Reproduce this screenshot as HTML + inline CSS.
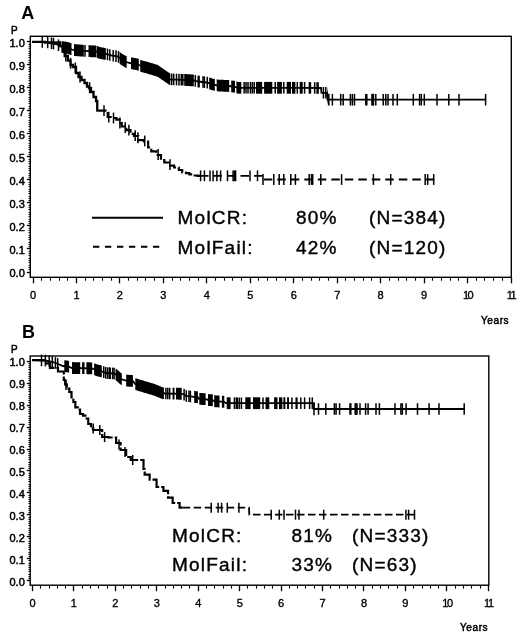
<!DOCTYPE html>
<html><head><meta charset="utf-8"><style>
html,body{margin:0;padding:0;background:#fff;}
svg{display:block;will-change:transform;}
text{font-family:"Liberation Sans",sans-serif;fill:#000;}
line{stroke:#000;}
.tk{stroke:#000;stroke-width:0.5px;}
.tx{stroke:#000;stroke-width:0.35px;}
.lg{letter-spacing:1.2px;stroke:#000;stroke-width:0.4px;}
</style></head><body>
<svg width="520" height="636" viewBox="0 0 520 636">
<rect width="520" height="636" fill="#fff"/>
<rect x="30.3" y="36.3" width="481.0" height="241.0" fill="none" stroke="#000" stroke-width="1.4"/>
<line x1="26.90" y1="272.50" x2="30.30" y2="272.50" stroke-width="1.3"/>
<line x1="28.50" y1="269.50" x2="30.30" y2="269.50" stroke-width="0.9"/>
<line x1="28.50" y1="267.50" x2="30.30" y2="267.50" stroke-width="0.9"/>
<line x1="28.50" y1="265.50" x2="30.30" y2="265.50" stroke-width="0.9"/>
<line x1="28.50" y1="262.50" x2="30.30" y2="262.50" stroke-width="0.9"/>
<line x1="28.50" y1="260.50" x2="30.30" y2="260.50" stroke-width="0.9"/>
<line x1="28.50" y1="258.50" x2="30.30" y2="258.50" stroke-width="0.9"/>
<line x1="28.50" y1="255.50" x2="30.30" y2="255.50" stroke-width="0.9"/>
<line x1="28.50" y1="253.50" x2="30.30" y2="253.50" stroke-width="0.9"/>
<line x1="28.50" y1="251.50" x2="30.30" y2="251.50" stroke-width="0.9"/>
<line x1="26.90" y1="248.50" x2="30.30" y2="248.50" stroke-width="1.3"/>
<line x1="28.50" y1="246.50" x2="30.30" y2="246.50" stroke-width="0.9"/>
<line x1="28.50" y1="244.50" x2="30.30" y2="244.50" stroke-width="0.9"/>
<line x1="28.50" y1="242.50" x2="30.30" y2="242.50" stroke-width="0.9"/>
<line x1="28.50" y1="239.50" x2="30.30" y2="239.50" stroke-width="0.9"/>
<line x1="28.50" y1="237.50" x2="30.30" y2="237.50" stroke-width="0.9"/>
<line x1="28.50" y1="235.50" x2="30.30" y2="235.50" stroke-width="0.9"/>
<line x1="28.50" y1="232.50" x2="30.30" y2="232.50" stroke-width="0.9"/>
<line x1="28.50" y1="230.50" x2="30.30" y2="230.50" stroke-width="0.9"/>
<line x1="28.50" y1="228.50" x2="30.30" y2="228.50" stroke-width="0.9"/>
<line x1="26.90" y1="225.50" x2="30.30" y2="225.50" stroke-width="1.3"/>
<line x1="28.50" y1="223.50" x2="30.30" y2="223.50" stroke-width="0.9"/>
<line x1="28.50" y1="221.50" x2="30.30" y2="221.50" stroke-width="0.9"/>
<line x1="28.50" y1="219.50" x2="30.30" y2="219.50" stroke-width="0.9"/>
<line x1="28.50" y1="216.50" x2="30.30" y2="216.50" stroke-width="0.9"/>
<line x1="28.50" y1="214.50" x2="30.30" y2="214.50" stroke-width="0.9"/>
<line x1="28.50" y1="212.50" x2="30.30" y2="212.50" stroke-width="0.9"/>
<line x1="28.50" y1="209.50" x2="30.30" y2="209.50" stroke-width="0.9"/>
<line x1="28.50" y1="207.50" x2="30.30" y2="207.50" stroke-width="0.9"/>
<line x1="28.50" y1="205.50" x2="30.30" y2="205.50" stroke-width="0.9"/>
<line x1="26.90" y1="202.50" x2="30.30" y2="202.50" stroke-width="1.3"/>
<line x1="28.50" y1="200.50" x2="30.30" y2="200.50" stroke-width="0.9"/>
<line x1="28.50" y1="198.50" x2="30.30" y2="198.50" stroke-width="0.9"/>
<line x1="28.50" y1="196.50" x2="30.30" y2="196.50" stroke-width="0.9"/>
<line x1="28.50" y1="193.50" x2="30.30" y2="193.50" stroke-width="0.9"/>
<line x1="28.50" y1="191.50" x2="30.30" y2="191.50" stroke-width="0.9"/>
<line x1="28.50" y1="189.50" x2="30.30" y2="189.50" stroke-width="0.9"/>
<line x1="28.50" y1="186.50" x2="30.30" y2="186.50" stroke-width="0.9"/>
<line x1="28.50" y1="184.50" x2="30.30" y2="184.50" stroke-width="0.9"/>
<line x1="28.50" y1="182.50" x2="30.30" y2="182.50" stroke-width="0.9"/>
<line x1="26.90" y1="179.50" x2="30.30" y2="179.50" stroke-width="1.3"/>
<line x1="28.50" y1="177.50" x2="30.30" y2="177.50" stroke-width="0.9"/>
<line x1="28.50" y1="175.50" x2="30.30" y2="175.50" stroke-width="0.9"/>
<line x1="28.50" y1="173.50" x2="30.30" y2="173.50" stroke-width="0.9"/>
<line x1="28.50" y1="170.50" x2="30.30" y2="170.50" stroke-width="0.9"/>
<line x1="28.50" y1="168.50" x2="30.30" y2="168.50" stroke-width="0.9"/>
<line x1="28.50" y1="166.50" x2="30.30" y2="166.50" stroke-width="0.9"/>
<line x1="28.50" y1="163.50" x2="30.30" y2="163.50" stroke-width="0.9"/>
<line x1="28.50" y1="161.50" x2="30.30" y2="161.50" stroke-width="0.9"/>
<line x1="28.50" y1="159.50" x2="30.30" y2="159.50" stroke-width="0.9"/>
<line x1="26.90" y1="156.50" x2="30.30" y2="156.50" stroke-width="1.3"/>
<line x1="28.50" y1="154.50" x2="30.30" y2="154.50" stroke-width="0.9"/>
<line x1="28.50" y1="152.50" x2="30.30" y2="152.50" stroke-width="0.9"/>
<line x1="28.50" y1="149.50" x2="30.30" y2="149.50" stroke-width="0.9"/>
<line x1="28.50" y1="147.50" x2="30.30" y2="147.50" stroke-width="0.9"/>
<line x1="28.50" y1="145.50" x2="30.30" y2="145.50" stroke-width="0.9"/>
<line x1="28.50" y1="143.50" x2="30.30" y2="143.50" stroke-width="0.9"/>
<line x1="28.50" y1="140.50" x2="30.30" y2="140.50" stroke-width="0.9"/>
<line x1="28.50" y1="138.50" x2="30.30" y2="138.50" stroke-width="0.9"/>
<line x1="28.50" y1="136.50" x2="30.30" y2="136.50" stroke-width="0.9"/>
<line x1="26.90" y1="133.50" x2="30.30" y2="133.50" stroke-width="1.3"/>
<line x1="28.50" y1="131.50" x2="30.30" y2="131.50" stroke-width="0.9"/>
<line x1="28.50" y1="129.50" x2="30.30" y2="129.50" stroke-width="0.9"/>
<line x1="28.50" y1="126.50" x2="30.30" y2="126.50" stroke-width="0.9"/>
<line x1="28.50" y1="124.50" x2="30.30" y2="124.50" stroke-width="0.9"/>
<line x1="28.50" y1="122.50" x2="30.30" y2="122.50" stroke-width="0.9"/>
<line x1="28.50" y1="120.50" x2="30.30" y2="120.50" stroke-width="0.9"/>
<line x1="28.50" y1="117.50" x2="30.30" y2="117.50" stroke-width="0.9"/>
<line x1="28.50" y1="115.50" x2="30.30" y2="115.50" stroke-width="0.9"/>
<line x1="28.50" y1="113.50" x2="30.30" y2="113.50" stroke-width="0.9"/>
<line x1="26.90" y1="110.50" x2="30.30" y2="110.50" stroke-width="1.3"/>
<line x1="28.50" y1="108.50" x2="30.30" y2="108.50" stroke-width="0.9"/>
<line x1="28.50" y1="106.50" x2="30.30" y2="106.50" stroke-width="0.9"/>
<line x1="28.50" y1="103.50" x2="30.30" y2="103.50" stroke-width="0.9"/>
<line x1="28.50" y1="101.50" x2="30.30" y2="101.50" stroke-width="0.9"/>
<line x1="28.50" y1="99.50" x2="30.30" y2="99.50" stroke-width="0.9"/>
<line x1="28.50" y1="97.50" x2="30.30" y2="97.50" stroke-width="0.9"/>
<line x1="28.50" y1="94.50" x2="30.30" y2="94.50" stroke-width="0.9"/>
<line x1="28.50" y1="92.50" x2="30.30" y2="92.50" stroke-width="0.9"/>
<line x1="28.50" y1="90.50" x2="30.30" y2="90.50" stroke-width="0.9"/>
<line x1="26.90" y1="87.50" x2="30.30" y2="87.50" stroke-width="1.3"/>
<line x1="28.50" y1="85.50" x2="30.30" y2="85.50" stroke-width="0.9"/>
<line x1="28.50" y1="83.50" x2="30.30" y2="83.50" stroke-width="0.9"/>
<line x1="28.50" y1="80.50" x2="30.30" y2="80.50" stroke-width="0.9"/>
<line x1="28.50" y1="78.50" x2="30.30" y2="78.50" stroke-width="0.9"/>
<line x1="28.50" y1="76.50" x2="30.30" y2="76.50" stroke-width="0.9"/>
<line x1="28.50" y1="74.50" x2="30.30" y2="74.50" stroke-width="0.9"/>
<line x1="28.50" y1="71.50" x2="30.30" y2="71.50" stroke-width="0.9"/>
<line x1="28.50" y1="69.50" x2="30.30" y2="69.50" stroke-width="0.9"/>
<line x1="28.50" y1="67.50" x2="30.30" y2="67.50" stroke-width="0.9"/>
<line x1="26.90" y1="64.50" x2="30.30" y2="64.50" stroke-width="1.3"/>
<line x1="28.50" y1="62.50" x2="30.30" y2="62.50" stroke-width="0.9"/>
<line x1="28.50" y1="60.50" x2="30.30" y2="60.50" stroke-width="0.9"/>
<line x1="28.50" y1="57.50" x2="30.30" y2="57.50" stroke-width="0.9"/>
<line x1="28.50" y1="55.50" x2="30.30" y2="55.50" stroke-width="0.9"/>
<line x1="28.50" y1="53.50" x2="30.30" y2="53.50" stroke-width="0.9"/>
<line x1="28.50" y1="51.50" x2="30.30" y2="51.50" stroke-width="0.9"/>
<line x1="28.50" y1="48.50" x2="30.30" y2="48.50" stroke-width="0.9"/>
<line x1="28.50" y1="46.50" x2="30.30" y2="46.50" stroke-width="0.9"/>
<line x1="28.50" y1="44.50" x2="30.30" y2="44.50" stroke-width="0.9"/>
<line x1="26.90" y1="41.50" x2="30.30" y2="41.50" stroke-width="1.3"/>
<text x="24.8" y="277.2" font-size="11" text-anchor="end" font-weight="normal" class="tk">0.0</text>
<text x="24.8" y="254.2" font-size="11" text-anchor="end" font-weight="normal" class="tk">0.1</text>
<text x="24.8" y="231.2" font-size="11" text-anchor="end" font-weight="normal" class="tk">0.2</text>
<text x="24.8" y="208.1" font-size="11" text-anchor="end" font-weight="normal" class="tk">0.3</text>
<text x="24.8" y="185.1" font-size="11" text-anchor="end" font-weight="normal" class="tk">0.4</text>
<text x="24.8" y="162.1" font-size="11" text-anchor="end" font-weight="normal" class="tk">0.5</text>
<text x="24.8" y="139.1" font-size="11" text-anchor="end" font-weight="normal" class="tk">0.6</text>
<text x="24.8" y="116.1" font-size="11" text-anchor="end" font-weight="normal" class="tk">0.7</text>
<text x="24.8" y="93.0" font-size="11" text-anchor="end" font-weight="normal" class="tk">0.8</text>
<text x="24.8" y="70.0" font-size="11" text-anchor="end" font-weight="normal" class="tk">0.9</text>
<text x="24.8" y="47.0" font-size="11" text-anchor="end" font-weight="normal" class="tk">1.0</text>
<line x1="33.50" y1="277.30" x2="33.50" y2="283.30" stroke-width="1.3"/>
<line x1="41.50" y1="277.30" x2="41.50" y2="280.70" stroke-width="1.1"/>
<line x1="50.50" y1="277.30" x2="50.50" y2="280.70" stroke-width="1.1"/>
<line x1="59.50" y1="277.30" x2="59.50" y2="280.70" stroke-width="1.1"/>
<line x1="67.50" y1="277.30" x2="67.50" y2="280.70" stroke-width="1.1"/>
<line x1="76.50" y1="277.30" x2="76.50" y2="283.30" stroke-width="1.3"/>
<line x1="85.50" y1="277.30" x2="85.50" y2="280.70" stroke-width="1.1"/>
<line x1="93.50" y1="277.30" x2="93.50" y2="280.70" stroke-width="1.1"/>
<line x1="102.50" y1="277.30" x2="102.50" y2="280.70" stroke-width="1.1"/>
<line x1="111.50" y1="277.30" x2="111.50" y2="280.70" stroke-width="1.1"/>
<line x1="119.50" y1="277.30" x2="119.50" y2="283.30" stroke-width="1.3"/>
<line x1="128.50" y1="277.30" x2="128.50" y2="280.70" stroke-width="1.1"/>
<line x1="137.50" y1="277.30" x2="137.50" y2="280.70" stroke-width="1.1"/>
<line x1="145.50" y1="277.30" x2="145.50" y2="280.70" stroke-width="1.1"/>
<line x1="154.50" y1="277.30" x2="154.50" y2="280.70" stroke-width="1.1"/>
<line x1="163.50" y1="277.30" x2="163.50" y2="283.30" stroke-width="1.3"/>
<line x1="172.50" y1="277.30" x2="172.50" y2="280.70" stroke-width="1.1"/>
<line x1="180.50" y1="277.30" x2="180.50" y2="280.70" stroke-width="1.1"/>
<line x1="189.50" y1="277.30" x2="189.50" y2="280.70" stroke-width="1.1"/>
<line x1="198.50" y1="277.30" x2="198.50" y2="280.70" stroke-width="1.1"/>
<line x1="206.50" y1="277.30" x2="206.50" y2="283.30" stroke-width="1.3"/>
<line x1="215.50" y1="277.30" x2="215.50" y2="280.70" stroke-width="1.1"/>
<line x1="224.50" y1="277.30" x2="224.50" y2="280.70" stroke-width="1.1"/>
<line x1="232.50" y1="277.30" x2="232.50" y2="280.70" stroke-width="1.1"/>
<line x1="241.50" y1="277.30" x2="241.50" y2="280.70" stroke-width="1.1"/>
<line x1="250.50" y1="277.30" x2="250.50" y2="283.30" stroke-width="1.3"/>
<line x1="258.50" y1="277.30" x2="258.50" y2="280.70" stroke-width="1.1"/>
<line x1="267.50" y1="277.30" x2="267.50" y2="280.70" stroke-width="1.1"/>
<line x1="276.50" y1="277.30" x2="276.50" y2="280.70" stroke-width="1.1"/>
<line x1="285.50" y1="277.30" x2="285.50" y2="280.70" stroke-width="1.1"/>
<line x1="293.50" y1="277.30" x2="293.50" y2="283.30" stroke-width="1.3"/>
<line x1="302.50" y1="277.30" x2="302.50" y2="280.70" stroke-width="1.1"/>
<line x1="311.50" y1="277.30" x2="311.50" y2="280.70" stroke-width="1.1"/>
<line x1="319.50" y1="277.30" x2="319.50" y2="280.70" stroke-width="1.1"/>
<line x1="328.50" y1="277.30" x2="328.50" y2="280.70" stroke-width="1.1"/>
<line x1="337.50" y1="277.30" x2="337.50" y2="283.30" stroke-width="1.3"/>
<line x1="345.50" y1="277.30" x2="345.50" y2="280.70" stroke-width="1.1"/>
<line x1="354.50" y1="277.30" x2="354.50" y2="280.70" stroke-width="1.1"/>
<line x1="363.50" y1="277.30" x2="363.50" y2="280.70" stroke-width="1.1"/>
<line x1="371.50" y1="277.30" x2="371.50" y2="280.70" stroke-width="1.1"/>
<line x1="380.50" y1="277.30" x2="380.50" y2="283.30" stroke-width="1.3"/>
<line x1="389.50" y1="277.30" x2="389.50" y2="280.70" stroke-width="1.1"/>
<line x1="398.50" y1="277.30" x2="398.50" y2="280.70" stroke-width="1.1"/>
<line x1="406.50" y1="277.30" x2="406.50" y2="280.70" stroke-width="1.1"/>
<line x1="415.50" y1="277.30" x2="415.50" y2="280.70" stroke-width="1.1"/>
<line x1="424.50" y1="277.30" x2="424.50" y2="283.30" stroke-width="1.3"/>
<line x1="432.50" y1="277.30" x2="432.50" y2="280.70" stroke-width="1.1"/>
<line x1="441.50" y1="277.30" x2="441.50" y2="280.70" stroke-width="1.1"/>
<line x1="450.50" y1="277.30" x2="450.50" y2="280.70" stroke-width="1.1"/>
<line x1="458.50" y1="277.30" x2="458.50" y2="280.70" stroke-width="1.1"/>
<line x1="467.50" y1="277.30" x2="467.50" y2="283.30" stroke-width="1.3"/>
<line x1="476.50" y1="277.30" x2="476.50" y2="280.70" stroke-width="1.1"/>
<line x1="484.50" y1="277.30" x2="484.50" y2="280.70" stroke-width="1.1"/>
<line x1="493.50" y1="277.30" x2="493.50" y2="280.70" stroke-width="1.1"/>
<line x1="502.50" y1="277.30" x2="502.50" y2="280.70" stroke-width="1.1"/>
<line x1="511.50" y1="277.30" x2="511.50" y2="283.30" stroke-width="1.3"/>
<text x="33.0" y="299.1" font-size="11" text-anchor="middle" font-weight="normal" class="tx">0</text>
<text x="76.5" y="299.1" font-size="11" text-anchor="middle" font-weight="normal" class="tx">1</text>
<text x="119.9" y="299.1" font-size="11" text-anchor="middle" font-weight="normal" class="tx">2</text>
<text x="163.4" y="299.1" font-size="11" text-anchor="middle" font-weight="normal" class="tx">3</text>
<text x="206.8" y="299.1" font-size="11" text-anchor="middle" font-weight="normal" class="tx">4</text>
<text x="250.3" y="299.1" font-size="11" text-anchor="middle" font-weight="normal" class="tx">5</text>
<text x="293.7" y="299.1" font-size="11" text-anchor="middle" font-weight="normal" class="tx">6</text>
<text x="337.2" y="299.1" font-size="11" text-anchor="middle" font-weight="normal" class="tx">7</text>
<text x="380.6" y="299.1" font-size="11" text-anchor="middle" font-weight="normal" class="tx">8</text>
<text x="424.1" y="299.1" font-size="11" text-anchor="middle" font-weight="normal" class="tx">9</text>
<text x="467.5" y="299.1" font-size="11" text-anchor="middle" font-weight="normal" class="tx" letter-spacing="-1.5">10</text>
<text x="511.0" y="299.1" font-size="11" text-anchor="middle" font-weight="normal" class="tx" letter-spacing="-1.5">11</text>
<text x="21.2" y="18.8" font-size="18" text-anchor="start" font-weight="bold">A</text>
<text x="11" y="33.6" font-size="10" text-anchor="start" font-weight="normal" class="tk">P</text>
<text x="481" y="324.2" font-size="10" text-anchor="start" font-weight="normal" class="tk" letter-spacing="0.6">Years</text>
<path d="M32.00,41.80 L46.00,42.00 L50.00,43.00 L56.00,44.00 L62.00,47.00 L68.00,48.00 L72.00,49.50 L74.00,50.00 L84.00,50.80 L96.00,51.50 L100.00,53.00 L106.00,54.00 L112.00,55.50 L118.00,56.50 L121.00,59.00 L126.00,62.00 L130.00,63.00 L138.00,64.50 L141.00,66.00 L150.00,68.50 L158.00,71.00 L165.00,76.00 L170.00,79.30 L183.00,79.80 L194.00,80.50 L198.00,81.50 L207.00,82.50 L212.00,84.30 L218.00,85.50 L229.00,86.00 L235.00,86.80 L238.00,87.80 L303.00,87.80 L321.00,88.00 L321.50,92.80 L327.00,92.80 L327.50,99.70 L486.00,99.70" fill="none" stroke="#000" stroke-width="1.8"/>
<line x1="42.30" y1="36.15" x2="42.30" y2="47.75" stroke-width="1.5"/>
<line x1="47.70" y1="36.62" x2="47.70" y2="48.22" stroke-width="1.5"/>
<line x1="51.50" y1="37.45" x2="51.50" y2="49.05" stroke-width="1.5"/>
<line x1="53.50" y1="37.78" x2="53.50" y2="49.38" stroke-width="1.5"/>
<line x1="58.50" y1="39.45" x2="58.50" y2="51.05" stroke-width="1.5"/>
<line x1="62.30" y1="41.25" x2="62.30" y2="52.85" stroke-width="1.5"/>
<line x1="85.00" y1="45.06" x2="85.00" y2="56.66" stroke-width="1.5"/>
<line x1="107.50" y1="48.58" x2="107.50" y2="60.17" stroke-width="1.5"/>
<line x1="109.80" y1="49.15" x2="109.80" y2="60.75" stroke-width="1.5"/>
<line x1="113.20" y1="49.90" x2="113.20" y2="61.50" stroke-width="1.5"/>
<line x1="116.00" y1="50.37" x2="116.00" y2="61.97" stroke-width="1.5"/>
<line x1="118.50" y1="51.12" x2="118.50" y2="62.72" stroke-width="1.5"/>
<line x1="171.70" y1="73.57" x2="171.70" y2="85.17" stroke-width="1.5"/>
<line x1="173.70" y1="73.64" x2="173.70" y2="85.24" stroke-width="1.5"/>
<line x1="176.50" y1="73.75" x2="176.50" y2="85.35" stroke-width="1.5"/>
<line x1="179.00" y1="73.85" x2="179.00" y2="85.45" stroke-width="1.5"/>
<line x1="181.30" y1="73.93" x2="181.30" y2="85.53" stroke-width="1.5"/>
<line x1="182.80" y1="73.99" x2="182.80" y2="85.59" stroke-width="1.5"/>
<line x1="195.30" y1="75.03" x2="195.30" y2="86.62" stroke-width="1.5"/>
<line x1="198.20" y1="75.72" x2="198.20" y2="87.32" stroke-width="1.5"/>
<line x1="199.10" y1="75.82" x2="199.10" y2="87.42" stroke-width="1.5"/>
<line x1="203.00" y1="76.26" x2="203.00" y2="87.86" stroke-width="1.5"/>
<line x1="204.40" y1="76.41" x2="204.40" y2="88.01" stroke-width="1.5"/>
<line x1="207.30" y1="76.81" x2="207.30" y2="88.41" stroke-width="1.5"/>
<line x1="244.10" y1="82.00" x2="244.10" y2="93.60" stroke-width="1.5"/>
<line x1="246.00" y1="82.00" x2="246.00" y2="93.60" stroke-width="1.5"/>
<line x1="248.00" y1="82.00" x2="248.00" y2="93.60" stroke-width="1.5"/>
<line x1="250.40" y1="82.00" x2="250.40" y2="93.60" stroke-width="1.5"/>
<line x1="252.30" y1="82.00" x2="252.30" y2="93.60" stroke-width="1.5"/>
<line x1="254.20" y1="82.00" x2="254.20" y2="93.60" stroke-width="1.5"/>
<line x1="275.20" y1="82.00" x2="275.20" y2="93.60" stroke-width="1.5"/>
<line x1="283.80" y1="82.00" x2="283.80" y2="93.60" stroke-width="1.5"/>
<line x1="297.30" y1="82.00" x2="297.30" y2="93.60" stroke-width="1.5"/>
<line x1="304.60" y1="82.02" x2="304.60" y2="93.62" stroke-width="1.5"/>
<line x1="309.40" y1="82.07" x2="309.40" y2="93.67" stroke-width="1.5"/>
<line x1="310.40" y1="82.08" x2="310.40" y2="93.68" stroke-width="1.5"/>
<line x1="314.70" y1="82.13" x2="314.70" y2="93.73" stroke-width="1.5"/>
<line x1="317.10" y1="82.16" x2="317.10" y2="93.76" stroke-width="1.5"/>
<line x1="318.10" y1="82.17" x2="318.10" y2="93.77" stroke-width="1.5"/>
<line x1="323.40" y1="87.00" x2="323.40" y2="98.60" stroke-width="1.5"/>
<line x1="325.80" y1="87.00" x2="325.80" y2="98.60" stroke-width="1.5"/>
<line x1="332.40" y1="93.90" x2="332.40" y2="105.50" stroke-width="1.5"/>
<line x1="340.70" y1="93.90" x2="340.70" y2="105.50" stroke-width="1.5"/>
<line x1="343.20" y1="93.90" x2="343.20" y2="105.50" stroke-width="1.5"/>
<line x1="350.40" y1="93.90" x2="350.40" y2="105.50" stroke-width="1.5"/>
<line x1="352.40" y1="93.90" x2="352.40" y2="105.50" stroke-width="1.5"/>
<line x1="354.50" y1="93.90" x2="354.50" y2="105.50" stroke-width="1.5"/>
<line x1="365.80" y1="93.90" x2="365.80" y2="105.50" stroke-width="1.5"/>
<line x1="366.80" y1="93.90" x2="366.80" y2="105.50" stroke-width="1.5"/>
<line x1="375.80" y1="93.90" x2="375.80" y2="105.50" stroke-width="1.5"/>
<line x1="383.20" y1="93.90" x2="383.20" y2="105.50" stroke-width="1.5"/>
<line x1="385.80" y1="93.90" x2="385.80" y2="105.50" stroke-width="1.5"/>
<line x1="388.00" y1="93.90" x2="388.00" y2="105.50" stroke-width="1.5"/>
<line x1="393.00" y1="93.90" x2="393.00" y2="105.50" stroke-width="1.5"/>
<line x1="397.30" y1="93.90" x2="397.30" y2="105.50" stroke-width="1.5"/>
<line x1="413.30" y1="93.90" x2="413.30" y2="105.50" stroke-width="1.5"/>
<line x1="419.60" y1="93.90" x2="419.60" y2="105.50" stroke-width="1.5"/>
<line x1="421.30" y1="93.90" x2="421.30" y2="105.50" stroke-width="1.5"/>
<line x1="424.30" y1="93.90" x2="424.30" y2="105.50" stroke-width="1.5"/>
<line x1="437.00" y1="93.90" x2="437.00" y2="105.50" stroke-width="1.5"/>
<line x1="448.80" y1="93.90" x2="448.80" y2="105.50" stroke-width="1.5"/>
<line x1="459.00" y1="93.90" x2="459.00" y2="105.50" stroke-width="1.5"/>
<line x1="485.60" y1="93.90" x2="485.60" y2="105.50" stroke-width="1.5"/>
<path d="M63.00,41.27 L64.00,41.43 L65.00,41.60 L66.00,41.77 L67.00,41.93 L68.00,42.10 L69.00,42.48 L70.00,42.85 L71.00,43.23 L71.50,43.41 L71.50,55.21 L71.00,55.02 L70.00,54.65 L69.00,54.27 L68.00,53.90 L67.00,53.73 L66.00,53.57 L65.00,53.40 L64.00,53.23 L63.00,53.07Z" fill="#000"/>
<path d="M74.00,44.10 L75.00,44.18 L76.00,44.26 L77.00,44.34 L78.00,44.42 L79.00,44.50 L80.00,44.58 L81.00,44.66 L82.00,44.74 L83.00,44.82 L83.80,44.88 L83.80,56.68 L83.00,56.62 L82.00,56.54 L81.00,56.46 L80.00,56.38 L79.00,56.30 L78.00,56.22 L77.00,56.14 L76.00,56.06 L75.00,55.98 L74.00,55.90Z" fill="#000"/>
<path d="M88.50,45.16 L89.50,45.22 L90.50,45.28 L91.50,45.34 L92.50,45.40 L93.50,45.45 L94.50,45.51 L95.50,45.57 L96.50,45.79 L96.50,57.59 L95.50,57.37 L94.50,57.31 L93.50,57.25 L92.50,57.20 L91.50,57.14 L90.50,57.08 L89.50,57.02 L88.50,56.96Z" fill="#000"/>
<path d="M97.00,45.98 L98.00,46.35 L99.00,46.73 L100.00,47.10 L101.00,47.27 L102.00,47.43 L103.00,47.60 L104.00,47.77 L105.00,47.93 L105.80,48.07 L105.80,59.87 L105.00,59.73 L104.00,59.57 L103.00,59.40 L102.00,59.23 L101.00,59.07 L100.00,58.90 L99.00,58.52 L98.00,58.15 L97.00,57.77Z" fill="#000"/>
<path d="M119.60,51.93 L120.60,52.77 L121.60,53.46 L122.60,54.06 L123.60,54.66 L124.60,55.26 L125.60,55.86 L126.60,56.25 L126.70,56.27 L126.70,68.08 L126.60,68.05 L125.60,67.66 L124.60,67.06 L123.60,66.46 L122.60,65.86 L121.60,65.26 L120.60,64.57 L119.60,63.73Z" fill="#000"/>
<path d="M131.00,57.29 L132.00,57.48 L133.00,57.66 L134.00,57.85 L135.00,58.04 L136.00,58.23 L137.00,58.41 L138.00,58.60 L138.80,59.00 L138.80,70.80 L138.00,70.40 L137.00,70.21 L136.00,70.03 L135.00,69.84 L134.00,69.65 L133.00,69.46 L132.00,69.28 L131.00,69.09Z" fill="#000"/>
<path d="M140.20,59.70 L141.20,60.16 L142.20,60.43 L143.20,60.71 L144.20,60.99 L145.20,61.27 L146.20,61.54 L147.20,61.82 L148.20,62.10 L149.20,62.38 L150.20,62.66 L151.20,62.98 L152.20,63.29 L153.20,63.60 L154.20,63.91 L155.20,64.22 L156.20,64.54 L157.20,64.85 L158.20,65.24 L159.20,65.96 L160.20,66.67 L161.20,67.39 L162.20,68.10 L163.20,68.81 L164.20,69.53 L165.20,70.23 L166.20,70.89 L167.20,71.55 L168.20,72.21 L169.20,72.87 L170.20,73.41 L170.30,73.41 L170.30,85.21 L170.20,85.21 L169.20,84.67 L168.20,84.01 L167.20,83.35 L166.20,82.69 L165.20,82.03 L164.20,81.33 L163.20,80.61 L162.20,79.90 L161.20,79.19 L160.20,78.47 L159.20,77.76 L158.20,77.04 L157.20,76.65 L156.20,76.34 L155.20,76.03 L154.20,75.71 L153.20,75.40 L152.20,75.09 L151.20,74.78 L150.20,74.46 L149.20,74.18 L148.20,73.90 L147.20,73.62 L146.20,73.34 L145.20,73.07 L144.20,72.79 L143.20,72.51 L142.20,72.23 L141.20,71.96 L140.20,71.50Z" fill="#000"/>
<path d="M184.20,73.98 L185.20,74.04 L186.20,74.10 L187.20,74.17 L188.20,74.23 L189.20,74.29 L190.20,74.36 L191.20,74.42 L192.20,74.49 L193.20,74.55 L193.80,74.59 L193.80,86.39 L193.20,86.35 L192.20,86.29 L191.20,86.22 L190.20,86.16 L189.20,86.09 L188.20,86.03 L187.20,85.97 L186.20,85.90 L185.20,85.84 L184.20,85.78Z" fill="#000"/>
<path d="M209.20,77.39 L210.20,77.75 L211.20,78.11 L212.20,78.44 L213.20,78.64 L214.20,78.84 L214.80,78.96 L214.80,90.76 L214.20,90.64 L213.20,90.44 L212.20,90.24 L211.20,89.91 L210.20,89.55 L209.20,89.19Z" fill="#000"/>
<path d="M216.70,79.34 L217.70,79.54 L218.70,79.63 L219.70,79.68 L220.70,79.72 L221.70,79.77 L222.70,79.81 L223.70,79.86 L224.70,79.90 L225.70,79.95 L226.70,80.00 L227.70,80.04 L228.70,80.09 L229.20,80.13 L229.20,91.93 L228.70,91.89 L227.70,91.84 L226.70,91.80 L225.70,91.75 L224.70,91.70 L223.70,91.66 L222.70,91.61 L221.70,91.57 L220.70,91.52 L219.70,91.48 L218.70,91.43 L217.70,91.34 L216.70,91.14Z" fill="#000"/>
<path d="M231.20,80.39 L232.20,80.53 L233.20,80.66 L234.20,80.79 L235.00,80.90 L235.00,92.70 L234.20,92.59 L233.20,92.46 L232.20,92.33 L231.20,92.19Z" fill="#000"/>
<path d="M236.40,81.37 L237.40,81.70 L238.40,81.90 L239.40,81.90 L240.40,81.90 L241.30,81.90 L241.30,93.70 L240.40,93.70 L239.40,93.70 L238.40,93.70 L237.40,93.50 L236.40,93.17Z" fill="#000"/>
<path d="M256.00,81.90 L257.00,81.90 L258.00,81.90 L259.00,81.90 L260.00,81.90 L261.00,81.90 L262.00,81.90 L262.20,81.90 L262.20,93.70 L262.00,93.70 L261.00,93.70 L260.00,93.70 L259.00,93.70 L258.00,93.70 L257.00,93.70 L256.00,93.70Z" fill="#000"/>
<path d="M264.10,81.90 L265.10,81.90 L266.10,81.90 L267.10,81.90 L268.10,81.90 L269.10,81.90 L270.10,81.90 L271.10,81.90 L272.10,81.90 L272.30,81.90 L272.30,93.70 L272.10,93.70 L271.10,93.70 L270.10,93.70 L269.10,93.70 L268.10,93.70 L267.10,93.70 L266.10,93.70 L265.10,93.70 L264.10,93.70Z" fill="#000"/>
<path d="M277.10,81.90 L278.10,81.90 L279.10,81.90 L280.10,81.90 L281.10,81.90 L281.90,81.90 L281.90,93.70 L281.10,93.70 L280.10,93.70 L279.10,93.70 L278.10,93.70 L277.10,93.70Z" fill="#000"/>
<path d="M286.70,81.90 L287.70,81.90 L288.70,81.90 L289.70,81.90 L290.70,81.90 L291.00,81.90 L291.00,93.70 L290.70,93.70 L289.70,93.70 L288.70,93.70 L287.70,93.70 L286.70,93.70Z" fill="#000"/>
<path d="M292.00,81.90 L293.00,81.90 L294.00,81.90 L295.00,81.90 L295.40,81.90 L295.40,93.70 L295.00,93.70 L294.00,93.70 L293.00,93.70 L292.00,93.70Z" fill="#000"/>
<path d="M299.70,81.90 L300.70,81.90 L301.70,81.90 L302.70,81.90 L302.70,93.70 L301.70,93.70 L300.70,93.70 L299.70,93.70Z" fill="#000"/>
<path d="M327.00,86.90 L328.00,93.80 L329.00,93.80 L329.60,93.80 L329.60,105.60 L329.00,105.60 L328.00,105.60 L327.00,98.70Z" fill="#000"/>
<path d="M371.20,93.80 L372.20,93.80 L373.20,93.80 L374.20,93.80 L374.20,105.60 L373.20,105.60 L372.20,105.60 L371.20,105.60Z" fill="#000"/>
<path d="M32.00,41.80 L45.00,41.80 L45.00,42.50 L58.00,42.50 L60.00,42.50 L60.00,46.00 L62.00,46.00 L62.80,46.00 L62.80,51.00 L63.60,51.00 L64.70,51.00 L64.70,56.00 L65.80,56.00 L67.90,56.00 L67.90,60.60 L70.00,60.60 L70.50,60.60 L70.50,65.00 L71.00,65.00 L73.00,65.00 L73.00,67.00 L75.00,67.00 L76.00,67.00 L76.00,73.00 L77.00,73.00 L78.50,73.00 L78.50,77.00 L80.00,77.00 L81.50,77.00 L81.50,80.00 L83.00,80.00 L84.50,80.00 L84.50,83.00 L86.00,83.00 L87.00,83.00 L87.00,86.50 L88.00,86.50 L89.00,86.50 L89.00,88.00 L90.00,88.00 L91.00,88.00 L91.00,92.00 L92.00,92.00 L93.50,92.00 L93.50,97.00 L95.00,97.00 L96.00,97.00 L96.00,101.00 L97.00,101.00 L97.25,101.00 L97.25,110.60 L97.50,110.60" fill="none" stroke="#000" stroke-width="2.3"/>
<path d="M97.50,110.60 L107.70,110.60 L107.70,117.00 L110.60,117.00 L110.60,118.00 L113.50,118.00 L116.40,118.00 L116.40,119.60 L119.30,119.60 L119.60,119.60 L119.60,123.00 L119.90,123.00 L121.75,123.00 L121.75,126.50 L123.60,126.50 L126.25,126.50 L126.25,130.20 L128.90,130.20 L130.45,130.20 L130.45,133.90 L132.00,133.90 L134.00,133.90 L134.00,136.00 L136.00,136.00 L138.25,136.00 L138.25,140.20 L140.50,140.20 L144.00,140.20 L144.00,141.50 L147.50,141.50 L148.15,141.50 L148.15,147.50 L148.80,147.50 L151.30,147.50 L151.30,151.30 L153.80,151.30 L156.30,151.30 L156.30,155.00 L158.80,155.00 L160.95,155.00 L160.95,160.00 L163.10,160.00 L164.35,160.00 L164.35,162.50 L165.60,162.50 L168.75,162.50 L168.75,165.60 L171.90,165.60 L174.10,165.60 L174.10,167.50 L176.30,167.50 L178.80,167.50 L178.80,170.00 L181.30,170.00 L182.20,170.00 L182.20,172.50 L183.10,172.50 L185.95,172.50 L185.95,173.10 L188.80,173.10 L189.40,173.10 L189.40,174.40 L190.00,174.40 L192.50,174.40 L192.50,175.50 L195.00,175.50 L197.50,175.50 L197.50,175.80 L200.00,175.80" fill="none" stroke="#000" stroke-width="2.2" stroke-dasharray="9,2.5"/>
<path d="M200.00,175.80 L262.00,175.80 L262.00,179.50 L435.00,179.50" fill="none" stroke="#000" stroke-width="1.8" stroke-dasharray="8.5,5"/>
<line x1="65.80" y1="50.60" x2="65.80" y2="61.40" stroke-width="1.5"/>
<line x1="70.60" y1="57.84" x2="70.60" y2="68.64" stroke-width="1.5"/>
<line x1="75.30" y1="62.50" x2="75.30" y2="73.30" stroke-width="1.5"/>
<line x1="80.00" y1="71.60" x2="80.00" y2="82.40" stroke-width="1.5"/>
<line x1="89.60" y1="82.30" x2="89.60" y2="93.10" stroke-width="1.5"/>
<line x1="104.00" y1="105.20" x2="104.00" y2="116.00" stroke-width="1.5"/>
<line x1="108.80" y1="111.79" x2="108.80" y2="122.59" stroke-width="1.5"/>
<line x1="113.50" y1="112.60" x2="113.50" y2="123.40" stroke-width="1.5"/>
<line x1="119.90" y1="117.60" x2="119.90" y2="128.40" stroke-width="1.5"/>
<line x1="125.20" y1="122.22" x2="125.20" y2="133.02" stroke-width="1.5"/>
<line x1="128.90" y1="124.80" x2="128.90" y2="135.60" stroke-width="1.5"/>
<line x1="135.20" y1="130.18" x2="135.20" y2="140.98" stroke-width="1.5"/>
<line x1="137.90" y1="132.37" x2="137.90" y2="143.17" stroke-width="1.5"/>
<line x1="144.70" y1="135.58" x2="144.70" y2="146.38" stroke-width="1.5"/>
<line x1="158.10" y1="149.08" x2="158.10" y2="159.88" stroke-width="1.5"/>
<line x1="170.00" y1="159.27" x2="170.00" y2="170.07" stroke-width="1.5"/>
<line x1="200.60" y1="170.40" x2="200.60" y2="181.20" stroke-width="1.5"/>
<line x1="204.40" y1="170.40" x2="204.40" y2="181.20" stroke-width="1.5"/>
<line x1="210.00" y1="170.40" x2="210.00" y2="181.20" stroke-width="1.5"/>
<line x1="213.10" y1="170.40" x2="213.10" y2="181.20" stroke-width="1.5"/>
<line x1="216.90" y1="170.40" x2="216.90" y2="181.20" stroke-width="1.5"/>
<line x1="220.60" y1="170.40" x2="220.60" y2="181.20" stroke-width="1.5"/>
<line x1="227.50" y1="170.40" x2="227.50" y2="181.20" stroke-width="1.5"/>
<line x1="233.10" y1="170.40" x2="233.10" y2="181.20" stroke-width="1.5"/>
<line x1="234.50" y1="170.40" x2="234.50" y2="181.20" stroke-width="1.5"/>
<line x1="235.60" y1="170.40" x2="235.60" y2="181.20" stroke-width="1.5"/>
<line x1="250.00" y1="170.40" x2="250.00" y2="181.20" stroke-width="1.5"/>
<line x1="257.50" y1="170.40" x2="257.50" y2="181.20" stroke-width="1.5"/>
<line x1="263.00" y1="174.10" x2="263.00" y2="184.90" stroke-width="1.5"/>
<line x1="273.80" y1="174.10" x2="273.80" y2="184.90" stroke-width="1.5"/>
<line x1="279.20" y1="174.10" x2="279.20" y2="184.90" stroke-width="1.5"/>
<line x1="283.80" y1="174.10" x2="283.80" y2="184.90" stroke-width="1.5"/>
<line x1="290.80" y1="174.10" x2="290.80" y2="184.90" stroke-width="1.5"/>
<line x1="295.40" y1="174.10" x2="295.40" y2="184.90" stroke-width="1.5"/>
<line x1="309.20" y1="174.10" x2="309.20" y2="184.90" stroke-width="1.5"/>
<line x1="311.50" y1="174.10" x2="311.50" y2="184.90" stroke-width="1.5"/>
<line x1="312.70" y1="174.10" x2="312.70" y2="184.90" stroke-width="1.5"/>
<line x1="320.80" y1="174.10" x2="320.80" y2="184.90" stroke-width="1.5"/>
<line x1="341.60" y1="174.10" x2="341.60" y2="184.90" stroke-width="1.5"/>
<line x1="373.40" y1="174.10" x2="373.40" y2="184.90" stroke-width="1.5"/>
<line x1="390.70" y1="174.10" x2="390.70" y2="184.90" stroke-width="1.5"/>
<line x1="425.20" y1="174.10" x2="425.20" y2="184.90" stroke-width="1.5"/>
<line x1="427.70" y1="174.10" x2="427.70" y2="184.90" stroke-width="1.5"/>
<line x1="433.70" y1="174.10" x2="433.70" y2="184.90" stroke-width="1.5"/>
<line x1="92.00" y1="217.80" x2="163.00" y2="217.80" stroke-width="1.9"/>
<line x1="93.00" y1="246.70" x2="160.00" y2="246.70" stroke-width="1.9" stroke-dasharray="6.3,5.7"/>
<text x="177.6" y="224.3" font-size="19" text-anchor="start" font-weight="normal" class="lg">MolCR:</text>
<text x="177.6" y="253.7" font-size="19" text-anchor="start" font-weight="normal" class="lg">MolFail:</text>
<text x="296" y="224.3" font-size="19" text-anchor="start" font-weight="normal" class="lg">80%</text>
<text x="296" y="253.7" font-size="19" text-anchor="start" font-weight="normal" class="lg">42%</text>
<text x="369" y="224.3" font-size="19" text-anchor="start" font-weight="normal" class="lg">(N=384)</text>
<text x="369" y="253.7" font-size="19" text-anchor="start" font-weight="normal" class="lg">(N=120)</text>
<rect x="30.2" y="356.0" width="458.6" height="229.20000000000005" fill="none" stroke="#000" stroke-width="1.4"/>
<line x1="26.80" y1="580.50" x2="30.20" y2="580.50" stroke-width="1.3"/>
<line x1="28.40" y1="578.50" x2="30.20" y2="578.50" stroke-width="0.9"/>
<line x1="28.40" y1="576.50" x2="30.20" y2="576.50" stroke-width="0.9"/>
<line x1="28.40" y1="574.50" x2="30.20" y2="574.50" stroke-width="0.9"/>
<line x1="28.40" y1="571.50" x2="30.20" y2="571.50" stroke-width="0.9"/>
<line x1="28.40" y1="569.50" x2="30.20" y2="569.50" stroke-width="0.9"/>
<line x1="28.40" y1="567.50" x2="30.20" y2="567.50" stroke-width="0.9"/>
<line x1="28.40" y1="565.50" x2="30.20" y2="565.50" stroke-width="0.9"/>
<line x1="28.40" y1="563.50" x2="30.20" y2="563.50" stroke-width="0.9"/>
<line x1="28.40" y1="560.50" x2="30.20" y2="560.50" stroke-width="0.9"/>
<line x1="26.80" y1="558.50" x2="30.20" y2="558.50" stroke-width="1.3"/>
<line x1="28.40" y1="556.50" x2="30.20" y2="556.50" stroke-width="0.9"/>
<line x1="28.40" y1="554.50" x2="30.20" y2="554.50" stroke-width="0.9"/>
<line x1="28.40" y1="552.50" x2="30.20" y2="552.50" stroke-width="0.9"/>
<line x1="28.40" y1="549.50" x2="30.20" y2="549.50" stroke-width="0.9"/>
<line x1="28.40" y1="547.50" x2="30.20" y2="547.50" stroke-width="0.9"/>
<line x1="28.40" y1="545.50" x2="30.20" y2="545.50" stroke-width="0.9"/>
<line x1="28.40" y1="543.50" x2="30.20" y2="543.50" stroke-width="0.9"/>
<line x1="28.40" y1="541.50" x2="30.20" y2="541.50" stroke-width="0.9"/>
<line x1="28.40" y1="538.50" x2="30.20" y2="538.50" stroke-width="0.9"/>
<line x1="26.80" y1="536.50" x2="30.20" y2="536.50" stroke-width="1.3"/>
<line x1="28.40" y1="534.50" x2="30.20" y2="534.50" stroke-width="0.9"/>
<line x1="28.40" y1="532.50" x2="30.20" y2="532.50" stroke-width="0.9"/>
<line x1="28.40" y1="530.50" x2="30.20" y2="530.50" stroke-width="0.9"/>
<line x1="28.40" y1="528.50" x2="30.20" y2="528.50" stroke-width="0.9"/>
<line x1="28.40" y1="525.50" x2="30.20" y2="525.50" stroke-width="0.9"/>
<line x1="28.40" y1="523.50" x2="30.20" y2="523.50" stroke-width="0.9"/>
<line x1="28.40" y1="521.50" x2="30.20" y2="521.50" stroke-width="0.9"/>
<line x1="28.40" y1="519.50" x2="30.20" y2="519.50" stroke-width="0.9"/>
<line x1="28.40" y1="517.50" x2="30.20" y2="517.50" stroke-width="0.9"/>
<line x1="26.80" y1="514.50" x2="30.20" y2="514.50" stroke-width="1.3"/>
<line x1="28.40" y1="512.50" x2="30.20" y2="512.50" stroke-width="0.9"/>
<line x1="28.40" y1="510.50" x2="30.20" y2="510.50" stroke-width="0.9"/>
<line x1="28.40" y1="508.50" x2="30.20" y2="508.50" stroke-width="0.9"/>
<line x1="28.40" y1="506.50" x2="30.20" y2="506.50" stroke-width="0.9"/>
<line x1="28.40" y1="503.50" x2="30.20" y2="503.50" stroke-width="0.9"/>
<line x1="28.40" y1="501.50" x2="30.20" y2="501.50" stroke-width="0.9"/>
<line x1="28.40" y1="499.50" x2="30.20" y2="499.50" stroke-width="0.9"/>
<line x1="28.40" y1="497.50" x2="30.20" y2="497.50" stroke-width="0.9"/>
<line x1="28.40" y1="495.50" x2="30.20" y2="495.50" stroke-width="0.9"/>
<line x1="26.80" y1="492.50" x2="30.20" y2="492.50" stroke-width="1.3"/>
<line x1="28.40" y1="490.50" x2="30.20" y2="490.50" stroke-width="0.9"/>
<line x1="28.40" y1="488.50" x2="30.20" y2="488.50" stroke-width="0.9"/>
<line x1="28.40" y1="486.50" x2="30.20" y2="486.50" stroke-width="0.9"/>
<line x1="28.40" y1="484.50" x2="30.20" y2="484.50" stroke-width="0.9"/>
<line x1="28.40" y1="481.50" x2="30.20" y2="481.50" stroke-width="0.9"/>
<line x1="28.40" y1="479.50" x2="30.20" y2="479.50" stroke-width="0.9"/>
<line x1="28.40" y1="477.50" x2="30.20" y2="477.50" stroke-width="0.9"/>
<line x1="28.40" y1="475.50" x2="30.20" y2="475.50" stroke-width="0.9"/>
<line x1="28.40" y1="473.50" x2="30.20" y2="473.50" stroke-width="0.9"/>
<line x1="26.80" y1="470.50" x2="30.20" y2="470.50" stroke-width="1.3"/>
<line x1="28.40" y1="468.50" x2="30.20" y2="468.50" stroke-width="0.9"/>
<line x1="28.40" y1="466.50" x2="30.20" y2="466.50" stroke-width="0.9"/>
<line x1="28.40" y1="464.50" x2="30.20" y2="464.50" stroke-width="0.9"/>
<line x1="28.40" y1="462.50" x2="30.20" y2="462.50" stroke-width="0.9"/>
<line x1="28.40" y1="459.50" x2="30.20" y2="459.50" stroke-width="0.9"/>
<line x1="28.40" y1="457.50" x2="30.20" y2="457.50" stroke-width="0.9"/>
<line x1="28.40" y1="455.50" x2="30.20" y2="455.50" stroke-width="0.9"/>
<line x1="28.40" y1="453.50" x2="30.20" y2="453.50" stroke-width="0.9"/>
<line x1="28.40" y1="451.50" x2="30.20" y2="451.50" stroke-width="0.9"/>
<line x1="26.80" y1="449.50" x2="30.20" y2="449.50" stroke-width="1.3"/>
<line x1="28.40" y1="446.50" x2="30.20" y2="446.50" stroke-width="0.9"/>
<line x1="28.40" y1="444.50" x2="30.20" y2="444.50" stroke-width="0.9"/>
<line x1="28.40" y1="442.50" x2="30.20" y2="442.50" stroke-width="0.9"/>
<line x1="28.40" y1="440.50" x2="30.20" y2="440.50" stroke-width="0.9"/>
<line x1="28.40" y1="438.50" x2="30.20" y2="438.50" stroke-width="0.9"/>
<line x1="28.40" y1="435.50" x2="30.20" y2="435.50" stroke-width="0.9"/>
<line x1="28.40" y1="433.50" x2="30.20" y2="433.50" stroke-width="0.9"/>
<line x1="28.40" y1="431.50" x2="30.20" y2="431.50" stroke-width="0.9"/>
<line x1="28.40" y1="429.50" x2="30.20" y2="429.50" stroke-width="0.9"/>
<line x1="26.80" y1="427.50" x2="30.20" y2="427.50" stroke-width="1.3"/>
<line x1="28.40" y1="424.50" x2="30.20" y2="424.50" stroke-width="0.9"/>
<line x1="28.40" y1="422.50" x2="30.20" y2="422.50" stroke-width="0.9"/>
<line x1="28.40" y1="420.50" x2="30.20" y2="420.50" stroke-width="0.9"/>
<line x1="28.40" y1="418.50" x2="30.20" y2="418.50" stroke-width="0.9"/>
<line x1="28.40" y1="416.50" x2="30.20" y2="416.50" stroke-width="0.9"/>
<line x1="28.40" y1="413.50" x2="30.20" y2="413.50" stroke-width="0.9"/>
<line x1="28.40" y1="411.50" x2="30.20" y2="411.50" stroke-width="0.9"/>
<line x1="28.40" y1="409.50" x2="30.20" y2="409.50" stroke-width="0.9"/>
<line x1="28.40" y1="407.50" x2="30.20" y2="407.50" stroke-width="0.9"/>
<line x1="26.80" y1="405.50" x2="30.20" y2="405.50" stroke-width="1.3"/>
<line x1="28.40" y1="402.50" x2="30.20" y2="402.50" stroke-width="0.9"/>
<line x1="28.40" y1="400.50" x2="30.20" y2="400.50" stroke-width="0.9"/>
<line x1="28.40" y1="398.50" x2="30.20" y2="398.50" stroke-width="0.9"/>
<line x1="28.40" y1="396.50" x2="30.20" y2="396.50" stroke-width="0.9"/>
<line x1="28.40" y1="394.50" x2="30.20" y2="394.50" stroke-width="0.9"/>
<line x1="28.40" y1="391.50" x2="30.20" y2="391.50" stroke-width="0.9"/>
<line x1="28.40" y1="389.50" x2="30.20" y2="389.50" stroke-width="0.9"/>
<line x1="28.40" y1="387.50" x2="30.20" y2="387.50" stroke-width="0.9"/>
<line x1="28.40" y1="385.50" x2="30.20" y2="385.50" stroke-width="0.9"/>
<line x1="26.80" y1="383.50" x2="30.20" y2="383.50" stroke-width="1.3"/>
<line x1="28.40" y1="380.50" x2="30.20" y2="380.50" stroke-width="0.9"/>
<line x1="28.40" y1="378.50" x2="30.20" y2="378.50" stroke-width="0.9"/>
<line x1="28.40" y1="376.50" x2="30.20" y2="376.50" stroke-width="0.9"/>
<line x1="28.40" y1="374.50" x2="30.20" y2="374.50" stroke-width="0.9"/>
<line x1="28.40" y1="372.50" x2="30.20" y2="372.50" stroke-width="0.9"/>
<line x1="28.40" y1="369.50" x2="30.20" y2="369.50" stroke-width="0.9"/>
<line x1="28.40" y1="367.50" x2="30.20" y2="367.50" stroke-width="0.9"/>
<line x1="28.40" y1="365.50" x2="30.20" y2="365.50" stroke-width="0.9"/>
<line x1="28.40" y1="363.50" x2="30.20" y2="363.50" stroke-width="0.9"/>
<line x1="26.80" y1="361.50" x2="30.20" y2="361.50" stroke-width="1.3"/>
<text x="24.8" y="585.9" font-size="11" text-anchor="end" font-weight="normal" class="tk">0.0</text>
<text x="24.8" y="564.0" font-size="11" text-anchor="end" font-weight="normal" class="tk">0.1</text>
<text x="24.8" y="542.0" font-size="11" text-anchor="end" font-weight="normal" class="tk">0.2</text>
<text x="24.8" y="520.1" font-size="11" text-anchor="end" font-weight="normal" class="tk">0.3</text>
<text x="24.8" y="498.1" font-size="11" text-anchor="end" font-weight="normal" class="tk">0.4</text>
<text x="24.8" y="476.1" font-size="11" text-anchor="end" font-weight="normal" class="tk">0.5</text>
<text x="24.8" y="454.2" font-size="11" text-anchor="end" font-weight="normal" class="tk">0.6</text>
<text x="24.8" y="432.2" font-size="11" text-anchor="end" font-weight="normal" class="tk">0.7</text>
<text x="24.8" y="410.3" font-size="11" text-anchor="end" font-weight="normal" class="tk">0.8</text>
<text x="24.8" y="388.3" font-size="11" text-anchor="end" font-weight="normal" class="tk">0.9</text>
<text x="24.8" y="366.4" font-size="11" text-anchor="end" font-weight="normal" class="tk">1.0</text>
<line x1="32.50" y1="585.20" x2="32.50" y2="591.20" stroke-width="1.3"/>
<line x1="40.50" y1="585.20" x2="40.50" y2="588.60" stroke-width="1.1"/>
<line x1="49.50" y1="585.20" x2="49.50" y2="588.60" stroke-width="1.1"/>
<line x1="57.50" y1="585.20" x2="57.50" y2="588.60" stroke-width="1.1"/>
<line x1="65.50" y1="585.20" x2="65.50" y2="588.60" stroke-width="1.1"/>
<line x1="73.50" y1="585.20" x2="73.50" y2="591.20" stroke-width="1.3"/>
<line x1="82.50" y1="585.20" x2="82.50" y2="588.60" stroke-width="1.1"/>
<line x1="90.50" y1="585.20" x2="90.50" y2="588.60" stroke-width="1.1"/>
<line x1="98.50" y1="585.20" x2="98.50" y2="588.60" stroke-width="1.1"/>
<line x1="107.50" y1="585.20" x2="107.50" y2="588.60" stroke-width="1.1"/>
<line x1="115.50" y1="585.20" x2="115.50" y2="591.20" stroke-width="1.3"/>
<line x1="123.50" y1="585.20" x2="123.50" y2="588.60" stroke-width="1.1"/>
<line x1="131.50" y1="585.20" x2="131.50" y2="588.60" stroke-width="1.1"/>
<line x1="140.50" y1="585.20" x2="140.50" y2="588.60" stroke-width="1.1"/>
<line x1="148.50" y1="585.20" x2="148.50" y2="588.60" stroke-width="1.1"/>
<line x1="156.50" y1="585.20" x2="156.50" y2="591.20" stroke-width="1.3"/>
<line x1="165.50" y1="585.20" x2="165.50" y2="588.60" stroke-width="1.1"/>
<line x1="173.50" y1="585.20" x2="173.50" y2="588.60" stroke-width="1.1"/>
<line x1="181.50" y1="585.20" x2="181.50" y2="588.60" stroke-width="1.1"/>
<line x1="189.50" y1="585.20" x2="189.50" y2="588.60" stroke-width="1.1"/>
<line x1="198.50" y1="585.20" x2="198.50" y2="591.20" stroke-width="1.3"/>
<line x1="206.50" y1="585.20" x2="206.50" y2="588.60" stroke-width="1.1"/>
<line x1="214.50" y1="585.20" x2="214.50" y2="588.60" stroke-width="1.1"/>
<line x1="223.50" y1="585.20" x2="223.50" y2="588.60" stroke-width="1.1"/>
<line x1="231.50" y1="585.20" x2="231.50" y2="588.60" stroke-width="1.1"/>
<line x1="239.50" y1="585.20" x2="239.50" y2="591.20" stroke-width="1.3"/>
<line x1="247.50" y1="585.20" x2="247.50" y2="588.60" stroke-width="1.1"/>
<line x1="256.50" y1="585.20" x2="256.50" y2="588.60" stroke-width="1.1"/>
<line x1="264.50" y1="585.20" x2="264.50" y2="588.60" stroke-width="1.1"/>
<line x1="272.50" y1="585.20" x2="272.50" y2="588.60" stroke-width="1.1"/>
<line x1="281.50" y1="585.20" x2="281.50" y2="591.20" stroke-width="1.3"/>
<line x1="289.50" y1="585.20" x2="289.50" y2="588.60" stroke-width="1.1"/>
<line x1="297.50" y1="585.20" x2="297.50" y2="588.60" stroke-width="1.1"/>
<line x1="305.50" y1="585.20" x2="305.50" y2="588.60" stroke-width="1.1"/>
<line x1="314.50" y1="585.20" x2="314.50" y2="588.60" stroke-width="1.1"/>
<line x1="322.50" y1="585.20" x2="322.50" y2="591.20" stroke-width="1.3"/>
<line x1="330.50" y1="585.20" x2="330.50" y2="588.60" stroke-width="1.1"/>
<line x1="339.50" y1="585.20" x2="339.50" y2="588.60" stroke-width="1.1"/>
<line x1="347.50" y1="585.20" x2="347.50" y2="588.60" stroke-width="1.1"/>
<line x1="355.50" y1="585.20" x2="355.50" y2="588.60" stroke-width="1.1"/>
<line x1="363.50" y1="585.20" x2="363.50" y2="591.20" stroke-width="1.3"/>
<line x1="372.50" y1="585.20" x2="372.50" y2="588.60" stroke-width="1.1"/>
<line x1="380.50" y1="585.20" x2="380.50" y2="588.60" stroke-width="1.1"/>
<line x1="388.50" y1="585.20" x2="388.50" y2="588.60" stroke-width="1.1"/>
<line x1="397.50" y1="585.20" x2="397.50" y2="588.60" stroke-width="1.1"/>
<line x1="405.50" y1="585.20" x2="405.50" y2="591.20" stroke-width="1.3"/>
<line x1="413.50" y1="585.20" x2="413.50" y2="588.60" stroke-width="1.1"/>
<line x1="422.50" y1="585.20" x2="422.50" y2="588.60" stroke-width="1.1"/>
<line x1="430.50" y1="585.20" x2="430.50" y2="588.60" stroke-width="1.1"/>
<line x1="438.50" y1="585.20" x2="438.50" y2="588.60" stroke-width="1.1"/>
<line x1="446.50" y1="585.20" x2="446.50" y2="591.20" stroke-width="1.3"/>
<line x1="455.50" y1="585.20" x2="455.50" y2="588.60" stroke-width="1.1"/>
<line x1="463.50" y1="585.20" x2="463.50" y2="588.60" stroke-width="1.1"/>
<line x1="471.50" y1="585.20" x2="471.50" y2="588.60" stroke-width="1.1"/>
<line x1="480.50" y1="585.20" x2="480.50" y2="588.60" stroke-width="1.1"/>
<line x1="488.50" y1="585.20" x2="488.50" y2="591.20" stroke-width="1.3"/>
<text x="32.5" y="607.0" font-size="11" text-anchor="middle" font-weight="normal" class="tx">0</text>
<text x="73.9" y="607.0" font-size="11" text-anchor="middle" font-weight="normal" class="tx">1</text>
<text x="115.4" y="607.0" font-size="11" text-anchor="middle" font-weight="normal" class="tx">2</text>
<text x="156.8" y="607.0" font-size="11" text-anchor="middle" font-weight="normal" class="tx">3</text>
<text x="198.2" y="607.0" font-size="11" text-anchor="middle" font-weight="normal" class="tx">4</text>
<text x="239.7" y="607.0" font-size="11" text-anchor="middle" font-weight="normal" class="tx">5</text>
<text x="281.1" y="607.0" font-size="11" text-anchor="middle" font-weight="normal" class="tx">6</text>
<text x="322.6" y="607.0" font-size="11" text-anchor="middle" font-weight="normal" class="tx">7</text>
<text x="364.0" y="607.0" font-size="11" text-anchor="middle" font-weight="normal" class="tx">8</text>
<text x="405.4" y="607.0" font-size="11" text-anchor="middle" font-weight="normal" class="tx">9</text>
<text x="446.9" y="607.0" font-size="11" text-anchor="middle" font-weight="normal" class="tx" letter-spacing="-1.5">10</text>
<text x="488.3" y="607.0" font-size="11" text-anchor="middle" font-weight="normal" class="tx" letter-spacing="-1.5">11</text>
<text x="22" y="337.6" font-size="18" text-anchor="start" font-weight="bold">B</text>
<text x="11" y="353" font-size="10" text-anchor="start" font-weight="normal" class="tk">P</text>
<text x="460" y="630.5" font-size="10" text-anchor="start" font-weight="normal" class="tk" letter-spacing="0.6">Years</text>
<path d="M32.00,360.20 L45.00,360.50 L53.00,362.00 L58.00,364.00 L63.00,366.00 L68.00,366.50 L72.00,368.00 L92.00,368.30 L96.00,370.00 L102.00,371.50 L106.00,373.00 L114.00,373.50 L116.00,374.50 L121.00,379.00 L126.00,380.50 L133.00,381.00 L135.00,384.00 L150.00,388.50 L155.00,390.00 L162.00,393.00 L165.00,393.50 L183.00,393.80 L186.00,396.00 L198.00,397.30 L199.00,398.80 L207.00,399.30 L208.00,400.00 L213.00,400.30 L214.00,401.20 L224.00,401.80 L226.00,403.20 L313.80,403.20 L313.80,409.00 L465.00,409.00" fill="none" stroke="#000" stroke-width="1.8"/>
<line x1="41.50" y1="354.62" x2="41.50" y2="366.22" stroke-width="1.5"/>
<line x1="45.40" y1="354.77" x2="45.40" y2="366.38" stroke-width="1.5"/>
<line x1="49.20" y1="355.49" x2="49.20" y2="367.09" stroke-width="1.5"/>
<line x1="52.30" y1="356.07" x2="52.30" y2="367.67" stroke-width="1.5"/>
<line x1="55.40" y1="357.16" x2="55.40" y2="368.76" stroke-width="1.5"/>
<line x1="57.70" y1="358.08" x2="57.70" y2="369.68" stroke-width="1.5"/>
<line x1="103.75" y1="366.36" x2="103.75" y2="377.96" stroke-width="1.5"/>
<line x1="105.70" y1="367.09" x2="105.70" y2="378.69" stroke-width="1.5"/>
<line x1="107.60" y1="367.30" x2="107.60" y2="378.90" stroke-width="1.5"/>
<line x1="109.30" y1="367.41" x2="109.30" y2="379.01" stroke-width="1.5"/>
<line x1="110.30" y1="367.47" x2="110.30" y2="379.07" stroke-width="1.5"/>
<line x1="112.70" y1="367.62" x2="112.70" y2="379.22" stroke-width="1.5"/>
<line x1="114.10" y1="367.75" x2="114.10" y2="379.35" stroke-width="1.5"/>
<line x1="165.90" y1="387.71" x2="165.90" y2="399.31" stroke-width="1.5"/>
<line x1="167.80" y1="387.75" x2="167.80" y2="399.35" stroke-width="1.5"/>
<line x1="169.70" y1="387.78" x2="169.70" y2="399.38" stroke-width="1.5"/>
<line x1="184.10" y1="388.81" x2="184.10" y2="400.41" stroke-width="1.5"/>
<line x1="189.00" y1="390.52" x2="189.00" y2="402.12" stroke-width="1.5"/>
<line x1="190.40" y1="390.68" x2="190.40" y2="402.28" stroke-width="1.5"/>
<line x1="234.40" y1="397.40" x2="234.40" y2="409.00" stroke-width="1.5"/>
<line x1="236.30" y1="397.40" x2="236.30" y2="409.00" stroke-width="1.5"/>
<line x1="237.30" y1="397.40" x2="237.30" y2="409.00" stroke-width="1.5"/>
<line x1="239.20" y1="397.40" x2="239.20" y2="409.00" stroke-width="1.5"/>
<line x1="241.40" y1="397.40" x2="241.40" y2="409.00" stroke-width="1.5"/>
<line x1="263.00" y1="397.40" x2="263.00" y2="409.00" stroke-width="1.5"/>
<line x1="284.20" y1="397.40" x2="284.20" y2="409.00" stroke-width="1.5"/>
<line x1="284.60" y1="397.40" x2="284.60" y2="409.00" stroke-width="1.5"/>
<line x1="291.90" y1="397.40" x2="291.90" y2="409.00" stroke-width="1.5"/>
<line x1="296.20" y1="397.40" x2="296.20" y2="409.00" stroke-width="1.5"/>
<line x1="296.90" y1="397.40" x2="296.90" y2="409.00" stroke-width="1.5"/>
<line x1="300.80" y1="397.40" x2="300.80" y2="409.00" stroke-width="1.5"/>
<line x1="304.60" y1="397.40" x2="304.60" y2="409.00" stroke-width="1.5"/>
<line x1="309.60" y1="397.40" x2="309.60" y2="409.00" stroke-width="1.5"/>
<line x1="312.30" y1="397.40" x2="312.30" y2="409.00" stroke-width="1.5"/>
<line x1="318.50" y1="403.20" x2="318.50" y2="414.80" stroke-width="1.5"/>
<line x1="325.80" y1="403.20" x2="325.80" y2="414.80" stroke-width="1.5"/>
<line x1="334.40" y1="403.20" x2="334.40" y2="414.80" stroke-width="1.5"/>
<line x1="336.10" y1="403.20" x2="336.10" y2="414.80" stroke-width="1.5"/>
<line x1="339.60" y1="403.20" x2="339.60" y2="414.80" stroke-width="1.5"/>
<line x1="350.00" y1="403.20" x2="350.00" y2="414.80" stroke-width="1.5"/>
<line x1="350.80" y1="403.20" x2="350.80" y2="414.80" stroke-width="1.5"/>
<line x1="355.20" y1="403.20" x2="355.20" y2="414.80" stroke-width="1.5"/>
<line x1="356.00" y1="403.20" x2="356.00" y2="414.80" stroke-width="1.5"/>
<line x1="357.00" y1="403.20" x2="357.00" y2="414.80" stroke-width="1.5"/>
<line x1="360.00" y1="403.20" x2="360.00" y2="414.80" stroke-width="1.5"/>
<line x1="365.60" y1="403.20" x2="365.60" y2="414.80" stroke-width="1.5"/>
<line x1="368.10" y1="403.20" x2="368.10" y2="414.80" stroke-width="1.5"/>
<line x1="376.00" y1="403.20" x2="376.00" y2="414.80" stroke-width="1.5"/>
<line x1="379.40" y1="403.20" x2="379.40" y2="414.80" stroke-width="1.5"/>
<line x1="395.00" y1="403.20" x2="395.00" y2="414.80" stroke-width="1.5"/>
<line x1="400.90" y1="403.20" x2="400.90" y2="414.80" stroke-width="1.5"/>
<line x1="402.30" y1="403.20" x2="402.30" y2="414.80" stroke-width="1.5"/>
<line x1="406.10" y1="403.20" x2="406.10" y2="414.80" stroke-width="1.5"/>
<line x1="417.50" y1="403.20" x2="417.50" y2="414.80" stroke-width="1.5"/>
<line x1="429.10" y1="403.20" x2="429.10" y2="414.80" stroke-width="1.5"/>
<line x1="439.00" y1="403.20" x2="439.00" y2="414.80" stroke-width="1.5"/>
<line x1="464.20" y1="403.20" x2="464.20" y2="414.80" stroke-width="1.5"/>
<line x1="314.00" y1="402.70" x2="314.00" y2="415.30" stroke-width="1.5"/>
<path d="M64.30,360.23 L65.30,360.33 L66.30,360.43 L67.30,360.53 L68.30,360.71 L69.10,361.01 L69.10,372.81 L68.30,372.51 L67.30,372.33 L66.30,372.23 L65.30,372.13 L64.30,372.03Z" fill="#000"/>
<path d="M72.00,362.10 L73.00,362.12 L74.00,362.13 L75.00,362.15 L76.00,362.16 L77.00,362.18 L78.00,362.19 L79.00,362.21 L80.00,362.22 L80.20,362.22 L80.20,374.02 L80.00,374.02 L79.00,374.00 L78.00,373.99 L77.00,373.97 L76.00,373.96 L75.00,373.94 L74.00,373.93 L73.00,373.91 L72.00,373.90Z" fill="#000"/>
<path d="M82.10,362.25 L83.10,362.27 L84.10,362.28 L84.50,362.29 L84.50,374.09 L84.10,374.08 L83.10,374.07 L82.10,374.05Z" fill="#000"/>
<path d="M86.40,362.32 L87.40,362.33 L88.40,362.35 L89.40,362.36 L90.40,362.38 L91.40,362.39 L92.20,362.49 L92.20,374.28 L91.40,374.19 L90.40,374.18 L89.40,374.16 L88.40,374.15 L87.40,374.13 L86.40,374.12Z" fill="#000"/>
<path d="M94.10,363.29 L95.10,363.72 L96.10,364.12 L97.10,364.38 L98.10,364.62 L99.10,364.88 L100.10,365.12 L101.10,365.38 L101.80,365.55 L101.80,377.35 L101.10,377.17 L100.10,376.92 L99.10,376.67 L98.10,376.42 L97.10,376.17 L96.10,375.92 L95.10,375.52 L94.10,375.09Z" fill="#000"/>
<path d="M115.60,368.40 L116.60,369.14 L117.60,370.04 L118.60,370.94 L119.60,371.84 L120.60,372.74 L121.60,373.28 L121.80,373.34 L121.80,385.14 L121.60,385.08 L120.60,384.54 L119.60,383.64 L118.60,382.74 L117.60,381.84 L116.60,380.94 L115.60,380.20Z" fill="#000"/>
<path d="M126.20,374.61 L127.20,374.69 L128.20,374.76 L129.20,374.83 L130.20,374.90 L131.20,374.97 L132.20,375.04 L132.90,375.09 L132.90,386.89 L132.20,386.84 L131.20,386.77 L130.20,386.70 L129.20,386.63 L128.20,386.56 L127.20,386.49 L126.20,386.41Z" fill="#000"/>
<path d="M135.30,378.19 L136.30,378.49 L137.30,378.79 L138.30,379.09 L139.30,379.39 L140.30,379.69 L141.30,379.99 L142.30,380.29 L143.30,380.59 L144.30,380.89 L145.30,381.19 L146.30,381.49 L147.30,381.79 L148.30,382.09 L149.30,382.39 L150.30,382.69 L151.30,382.99 L152.30,383.29 L153.30,383.59 L154.30,383.89 L155.30,384.23 L156.30,384.66 L157.30,385.09 L158.30,385.51 L159.30,385.94 L160.30,386.37 L161.30,386.80 L162.30,387.15 L163.30,387.32 L163.90,387.42 L163.90,399.22 L163.30,399.12 L162.30,398.95 L161.30,398.60 L160.30,398.17 L159.30,397.74 L158.30,397.31 L157.30,396.89 L156.30,396.46 L155.30,396.03 L154.30,395.69 L153.30,395.39 L152.30,395.09 L151.30,394.79 L150.30,394.49 L149.30,394.19 L148.30,393.89 L147.30,393.59 L146.30,393.29 L145.30,392.99 L144.30,392.69 L143.30,392.39 L142.30,392.09 L141.30,391.79 L140.30,391.49 L139.30,391.19 L138.30,390.89 L137.30,390.59 L136.30,390.29 L135.30,389.99Z" fill="#000"/>
<path d="M172.60,387.73 L173.60,387.74 L174.50,387.76 L174.50,399.56 L173.60,399.54 L172.60,399.53Z" fill="#000"/>
<path d="M176.00,387.78 L177.00,387.80 L178.00,387.82 L179.00,387.83 L180.00,387.85 L181.00,387.87 L181.70,387.88 L181.70,399.68 L181.00,399.67 L180.00,399.65 L179.00,399.63 L178.00,399.62 L177.00,399.60 L176.00,399.58Z" fill="#000"/>
<path d="M185.60,389.81 L186.60,390.17 L187.00,390.21 L187.00,402.01 L186.60,401.96 L185.60,401.61Z" fill="#000"/>
<path d="M194.20,390.99 L195.20,391.10 L196.20,391.21 L197.20,391.31 L197.90,391.39 L197.90,403.19 L197.20,403.11 L196.20,403.00 L195.20,402.90 L194.20,402.79Z" fill="#000"/>
<path d="M199.30,392.92 L200.30,392.98 L201.30,393.04 L202.30,393.11 L203.30,393.17 L204.30,393.23 L205.30,393.29 L205.60,393.31 L205.60,405.11 L205.30,405.09 L204.30,405.03 L203.30,404.97 L202.30,404.91 L201.30,404.84 L200.30,404.78 L199.30,404.72Z" fill="#000"/>
<path d="M208.00,394.10 L209.00,394.16 L210.00,394.22 L211.00,394.28 L212.00,394.34 L212.80,394.39 L212.80,406.19 L212.00,406.14 L211.00,406.08 L210.00,406.02 L209.00,405.96 L208.00,405.90Z" fill="#000"/>
<path d="M214.20,395.31 L215.20,395.37 L216.20,395.43 L217.20,395.49 L218.20,395.55 L219.20,395.61 L219.50,395.63 L219.50,407.43 L219.20,407.41 L218.20,407.35 L217.20,407.29 L216.20,407.23 L215.20,407.17 L214.20,407.11Z" fill="#000"/>
<path d="M221.90,395.77 L222.90,395.83 L223.90,395.89 L224.30,396.11 L224.30,407.91 L223.90,407.69 L222.90,407.63 L221.90,407.57Z" fill="#000"/>
<path d="M226.70,397.30 L227.70,397.30 L228.70,397.30 L229.70,397.30 L230.60,397.30 L230.60,409.10 L229.70,409.10 L228.70,409.10 L227.70,409.10 L226.70,409.10Z" fill="#000"/>
<path d="M245.30,397.30 L246.30,397.30 L247.30,397.30 L248.30,397.30 L249.30,397.30 L250.30,397.30 L250.60,397.30 L250.60,409.10 L250.30,409.10 L249.30,409.10 L248.30,409.10 L247.30,409.10 L246.30,409.10 L245.30,409.10Z" fill="#000"/>
<path d="M253.00,397.30 L254.00,397.30 L255.00,397.30 L256.00,397.30 L257.00,397.30 L258.00,397.30 L259.00,397.30 L260.00,397.30 L260.20,397.30 L260.20,409.10 L260.00,409.10 L259.00,409.10 L258.00,409.10 L257.00,409.10 L256.00,409.10 L255.00,409.10 L254.00,409.10 L253.00,409.10Z" fill="#000"/>
<path d="M265.50,397.30 L266.50,397.30 L267.50,397.30 L268.50,397.30 L269.30,397.30 L269.30,409.10 L268.50,409.10 L267.50,409.10 L266.50,409.10 L265.50,409.10Z" fill="#000"/>
<path d="M274.10,397.30 L275.10,397.30 L276.10,397.30 L277.10,397.30 L277.50,397.30 L277.50,409.10 L277.10,409.10 L276.10,409.10 L275.10,409.10 L274.10,409.10Z" fill="#000"/>
<path d="M279.00,397.30 L280.00,397.30 L281.00,397.30 L282.00,397.30 L282.30,397.30 L282.30,409.10 L282.00,409.10 L281.00,409.10 L280.00,409.10 L279.00,409.10Z" fill="#000"/>
<path d="M287.10,397.30 L288.10,397.30 L289.00,397.30 L289.00,409.10 L288.10,409.10 L287.10,409.10Z" fill="#000"/>
<path d="M32.00,360.20 L44.70,360.20 L44.70,363.40 L50.00,363.40 L50.00,367.80 L58.00,367.80 L58.00,371.50 L63.00,371.50 L63.80,371.50 L63.80,380.00 L64.60,380.00 L65.15,380.00 L65.15,384.30 L65.70,384.30 L66.80,384.30 L66.80,388.70 L67.90,388.70 L69.30,388.70 L69.30,392.00 L70.70,392.00 L71.50,392.00 L71.50,397.50 L72.30,397.50 L73.40,397.50 L73.40,402.00 L74.50,402.00 L75.35,402.00 L75.35,407.40 L76.20,407.40 L77.85,407.40 L77.85,409.60 L79.50,409.60 L80.05,409.60 L80.05,414.00 L80.60,414.00 L83.05,414.00 L83.05,415.70 L85.50,415.70 L86.60,415.70 L86.60,418.50 L87.70,418.50 L88.25,418.50 L88.25,424.00 L88.80,424.00 L91.00,424.00 L91.00,428.40 L93.20,428.40 L93.20,430.00 L102.00,430.00 L102.15,430.00 L102.15,437.00 L102.30,437.00 L108.45,437.00 L108.45,437.50 L114.60,437.50 L116.15,437.50 L116.15,443.00 L117.70,443.00 L120.60,443.00 L120.60,450.00 L123.50,450.00 L126.15,450.00 L126.15,457.00 L128.80,457.00 L130.75,457.00 L130.75,460.00 L132.70,460.00 L143.50,460.00 L143.50,469.00 L144.65,469.00 L144.65,474.60 L145.80,474.60 L149.65,474.60 L149.65,479.70 L153.50,479.70 L156.55,479.70 L156.55,487.00 L159.60,487.00 L163.45,487.00 L163.45,490.80 L167.30,490.80 L168.05,490.80 L168.05,497.70 L168.80,497.70 L172.65,497.70 L172.65,503.00 L176.50,503.00 L179.60,503.00 L179.60,507.70 L182.70,507.70" fill="none" stroke="#000" stroke-width="2.2" stroke-dasharray="14,2"/>
<path d="M182.70,507.70 L249.00,507.70 L249.30,514.70 L415.30,514.70" fill="none" stroke="#000" stroke-width="1.8" stroke-dasharray="7.5,3.5"/>
<line x1="66.00" y1="379.90" x2="66.00" y2="389.90" stroke-width="1.5"/>
<line x1="93.20" y1="423.40" x2="93.20" y2="433.40" stroke-width="1.5"/>
<line x1="99.80" y1="425.00" x2="99.80" y2="435.00" stroke-width="1.5"/>
<line x1="104.60" y1="432.09" x2="104.60" y2="442.09" stroke-width="1.5"/>
<line x1="119.00" y1="439.57" x2="119.00" y2="449.57" stroke-width="1.5"/>
<line x1="125.00" y1="446.98" x2="125.00" y2="456.98" stroke-width="1.5"/>
<line x1="132.70" y1="455.00" x2="132.70" y2="465.00" stroke-width="1.5"/>
<line x1="211.20" y1="502.70" x2="211.20" y2="512.70" stroke-width="1.5"/>
<line x1="218.10" y1="502.70" x2="218.10" y2="512.70" stroke-width="1.5"/>
<line x1="221.60" y1="502.70" x2="221.60" y2="512.70" stroke-width="1.5"/>
<line x1="227.30" y1="502.70" x2="227.30" y2="512.70" stroke-width="1.5"/>
<line x1="238.90" y1="502.70" x2="238.90" y2="512.70" stroke-width="1.5"/>
<line x1="271.20" y1="509.70" x2="271.20" y2="519.70" stroke-width="1.5"/>
<line x1="279.30" y1="509.70" x2="279.30" y2="519.70" stroke-width="1.5"/>
<line x1="284.00" y1="509.70" x2="284.00" y2="519.70" stroke-width="1.5"/>
<line x1="295.50" y1="509.70" x2="295.50" y2="519.70" stroke-width="1.5"/>
<line x1="299.00" y1="509.70" x2="299.00" y2="519.70" stroke-width="1.5"/>
<line x1="323.70" y1="509.70" x2="323.70" y2="519.70" stroke-width="1.5"/>
<line x1="405.90" y1="509.70" x2="405.90" y2="519.70" stroke-width="1.5"/>
<line x1="408.60" y1="509.70" x2="408.60" y2="519.70" stroke-width="1.5"/>
<line x1="414.50" y1="509.70" x2="414.50" y2="519.70" stroke-width="1.5"/>
<text x="172" y="542" font-size="19" text-anchor="start" font-weight="normal" class="lg">MolCR:</text>
<text x="172" y="570.8" font-size="19" text-anchor="start" font-weight="normal" class="lg">MolFail:</text>
<text x="291.5" y="542" font-size="19" text-anchor="start" font-weight="normal" class="lg">81%</text>
<text x="291.5" y="570.8" font-size="19" text-anchor="start" font-weight="normal" class="lg">33%</text>
<text x="352" y="542" font-size="19" text-anchor="start" font-weight="normal" class="lg">(N=333)</text>
<text x="352" y="570.8" font-size="19" text-anchor="start" font-weight="normal" class="lg">(N=63)</text>
</svg></body></html>
